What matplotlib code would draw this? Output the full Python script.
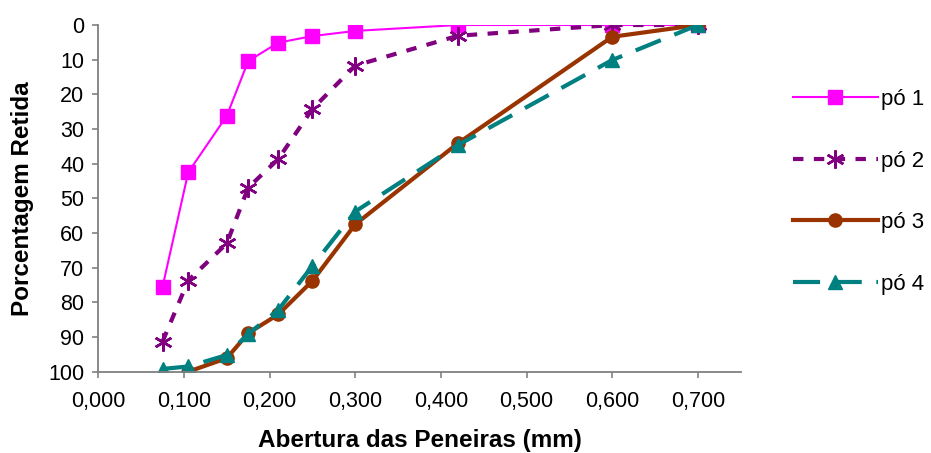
import numpy as np
import matplotlib.pyplot as plt
from matplotlib.ticker import FuncFormatter

plt.rcParams['font.family'] = ['Liberation Sans', 'DejaVu Sans']

# aberturas das peneiras (mm)
abertura = [0.075, 0.105, 0.150, 0.175, 0.210, 0.250, 0.300, 0.420, 0.600, 0.700]
x3 = abertura[1:]

po1 = [75.5, 42.5, 26.2, 10.4, 5.1, 3.2, 1.7, 0.0, 0.0, 0.0]
po2 = [91.3, 73.7, 63.0, 46.9, 38.7, 24.2, 11.7, 3.1, 0.0, 0.0]
po3 = [100.0, 96.1, 88.9, 83.5, 73.8, 57.5, 34.1, 3.4, 0.0]
po4 = [99.2, 98.5, 95.2, 89.1, 82.2, 69.5, 53.8, 34.6, 10.1, 0.0]

fig = plt.figure(figsize=(9.31, 4.53), dpi=100)
ax = fig.add_axes([0.1056, 0.1795, 0.69, 0.7653])

ax.plot(abertura, po1, color='#FF00FF', lw=1.5, marker='s', ms=10.5,
        label='pó 1')
ax.plot(abertura, po2, color='#800080', lw=3, dashes=(2.5, 2.5),
        marker=(6, 2, 0), ms=13, mew=1.8, label='pó 2')
ax.plot(x3, po3, color='#993300', lw=3, marker='o', ms=9.5, label='pó 3')
ax.plot(abertura, po4, color='#008080', lw=3, dashes=(6.5, 3.5),
        marker='^', ms=10.5, label='pó 4')

ax.set_xlim(0, 0.75)
ax.set_ylim(100, 0)
ax.set_xticks(np.arange(0, 0.71, 0.1))
ax.set_yticks(np.arange(0, 101, 10))
ax.xaxis.set_major_formatter(FuncFormatter(lambda v, p: f'{v:.3f}'.replace('.', ',')))
ax.tick_params(labelsize=15.5, length=4, width=1.1, color='#777777')
ax.tick_params(axis='x', pad=10)
ax.tick_params(axis='y', pad=6)
ax.spines['top'].set_visible(False)
ax.spines['right'].set_visible(False)
for s in ('left', 'bottom'):
    ax.spines[s].set_color('#808080')
    ax.spines[s].set_linewidth(1.3)

ax.set_xlabel('Abertura das Peneiras (mm)', fontsize=17.5, fontweight='bold', labelpad=12)
ax.set_ylabel('Porcentagem Retida', fontsize=17.5, fontweight='bold', labelpad=10)

leg = fig.legend(loc='upper left', bbox_to_anchor=(0.852, 0.803), frameon=False,
                 fontsize=16, handlelength=3.8, handletextpad=0.15,
                 labelspacing=1.82, borderpad=0, borderaxespad=0)

fig.savefig('out.png')
